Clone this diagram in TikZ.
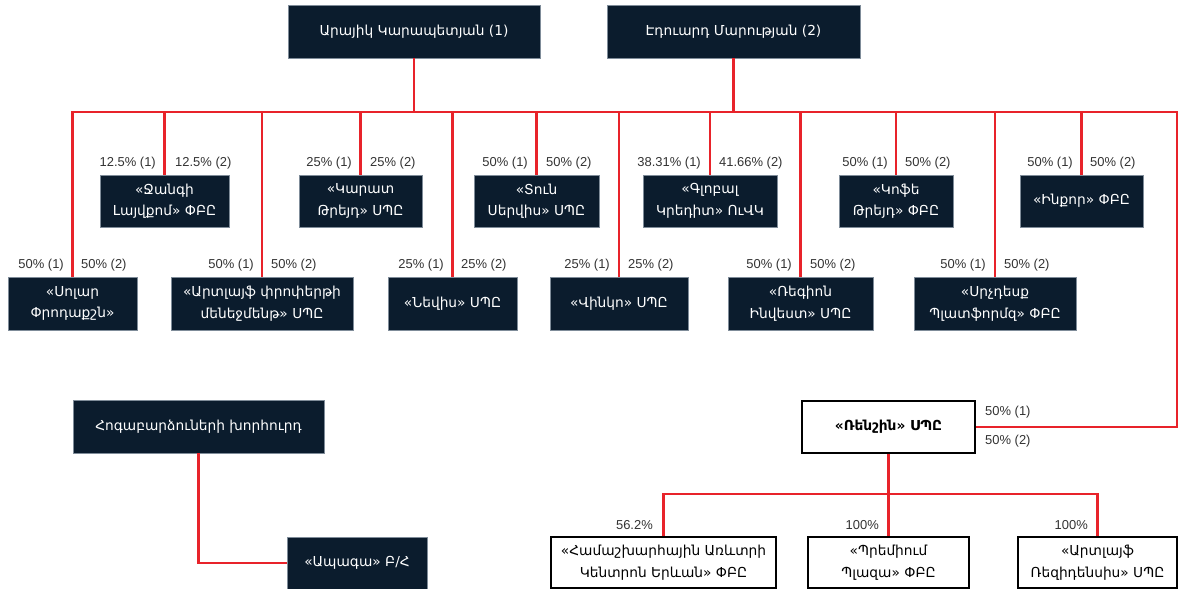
\documentclass[tikz,border=0pt]{standalone}
\usepackage{fontspec}
\setmainfont{DejaVu Sans}
\newfontfamily\pctfont{Liberation Sans}
\definecolor{navy}{HTML}{0B1C2D}
\definecolor{lnred}{HTML}{E8232A}
\definecolor{bordergray}{HTML}{7F8C99}
\definecolor{lbl}{HTML}{333333}
\begin{document}
\begin{tikzpicture}[x=1bp,y=-1bp,
  dark/.style={fill=navy, draw=bordergray, line width=0.8bp, text=white, align=center, inner sep=0pt, font=\fontsize{13.8}{21.5}\selectfont},
  light/.style={fill=white, draw=black, line width=2.5bp, text=black, align=center, inner sep=0pt, font=\fontsize{13.8}{21.5}\selectfont},
  conn/.style={draw=lnred, line width=2.6bp},
  pl/.style={font=\pctfont\fontsize{13}{14}\selectfont, text=lbl, inner sep=0pt, anchor=east},
  pr/.style={font=\pctfont\fontsize{13}{14}\selectfont, text=lbl, inner sep=0pt, anchor=west}
]
\useasboundingbox[fill=white] (0,0) rectangle (1191,589);
% owners
\node[dark, minimum width=252bp, minimum height=53bp] (A) at (414,31.5) {Արայիկ Կարապետյան (1)};
\node[dark, minimum width=253bp, minimum height=53bp] (E) at (733.5,31.5) {Էդուարդ Մարության (2)};
% row 1
\node[dark, minimum width=129bp, minimum height=52bp] (C1) at (164.5,201) {«Ջանգի\\Լայվքոմ» ՓԲԸ};
\node[dark, minimum width=123bp, minimum height=52bp] (C2) at (360.5,201) {«Կարատ\\Թրեյդ» ՍՊԸ};
\node[dark, minimum width=125bp, minimum height=52bp] (C3) at (536.5,201) {«Տուն\\Սերվիս» ՍՊԸ};
\node[dark, minimum width=134bp, minimum height=52bp] (C4) at (710,201) {«Գլոբալ\\Կրեդիտ» ՈւՎԿ};
\node[dark, minimum width=114bp, minimum height=52bp] (C5) at (896,201) {«Կոֆե\\Թրեյդ» ՓԲԸ};
\node[dark, minimum width=123bp, minimum height=52bp] (C6) at (1081.5,201) {«Ինքոր» ՓԲԸ};
% row 2
\node[dark, minimum width=129bp, minimum height=53bp] (D1) at (72.5,303.5) {«Սոլար\\Փրոդաքշն»};
\node[dark, minimum width=182bp, minimum height=53bp] (D2) at (262,303.5) {«Արտլայֆ փրոփերթի\\մենեջմենթ» ՍՊԸ};
\node[dark, minimum width=129bp, minimum height=53bp] (D3) at (452.5,303.5) {«Նեվիս» ՍՊԸ};
\node[dark, minimum width=138bp, minimum height=53bp] (D4) at (619,303.5) {«Վինկո» ՍՊԸ};
\node[dark, minimum width=145bp, minimum height=53bp] (D5) at (800.5,303.5) {«Ռեգիոն\\Ինվեստ» ՍՊԸ};
\node[dark, minimum width=162bp, minimum height=53bp] (D6) at (995,303.5) {«Սրչդեսք\\Պլատֆորմզ» ՓԲԸ};
% trustees
\node[dark, minimum width=251bp, minimum height=53bp] (H) at (198.5,426.5) {Հոգաբարձուների խորհուրդ};
\node[dark, minimum width=140bp, minimum height=52bp] (Ap) at (357,563) {«Ապագա» Բ/Հ};
% Renshin
\node[light, minimum width=173bp, minimum height=52bp, font=\fontsize{13.8}{21.5}\selectfont\bfseries] (R) at (888.5,427) {«Ռենշին» ՍՊԸ};
\node[light, minimum width=225bp, minimum height=51bp] (K1) at (663.5,562.5) {«Համաշխարհային Առևտրի\\Կենտրոն Երևան» ՓԲԸ};
\node[light, minimum width=161bp, minimum height=51bp] (K2) at (888.5,562.5) {«Պրեմիում\\Պլազա» ՓԲԸ};
\node[light, minimum width=159bp, minimum height=51bp] (K3) at (1097.5,562.5) {«Արտլայֆ\\Ռեզիդենսիս» ՍՊԸ};
% bus coordinates
\coordinate (busR) at (1177,112);
\coordinate (b2) at (888.5,494);
% connectors
\draw[conn] (D1.north) |- (busR) |- (R.east);
\draw[conn] (A.south) -- (A.south |- busR);
\draw[conn] (E.south) -- (E.south |- busR);
\foreach \n in {C1,C2,C3,C4,C5,C6,D2,D3,D4,D5,D6}
  \draw[conn] (\n.north) -- (\n.north |- busR);
\draw[conn] (H.south) |- (Ap.west);
\draw[conn] (R.south) -- (K2.north);
\draw[conn] (K1.north) |- (b2) -| (K3.north);
% percentage labels row 1
\node[pl] (l1a) at (156,163) {12.5\% (1)};
\node[pr] (l1b) at (175,163) {12.5\% (2)};
\node[pl] (l2a) at (352,163) {25\% (1)};
\node[pr] (l2b) at (370,163) {25\% (2)};
\node[pl] (l3a) at (528,163) {50\% (1)};
\node[pr] (l3b) at (546,163) {50\% (2)};
\node[pl] (l4a) at (701,163) {38.31\% (1)};
\node[pr] (l4b) at (719,163) {41.66\% (2)};
\node[pl] (l5a) at (888,163) {50\% (1)};
\node[pr] (l5b) at (905,163) {50\% (2)};
\node[pl] (l6a) at (1073,163) {50\% (1)};
\node[pr] (l6b) at (1090,163) {50\% (2)};
% percentage labels row 2
\node[pl] (m1a) at (64,265) {50\% (1)};
\node[pr] (m1b) at (81,265) {50\% (2)};
\node[pl] (m2a) at (254,265) {50\% (1)};
\node[pr] (m2b) at (271,265) {50\% (2)};
\node[pl] (m3a) at (444,265) {25\% (1)};
\node[pr] (m3b) at (461,265) {25\% (2)};
\node[pl] (m4a) at (610,265) {25\% (1)};
\node[pr] (m4b) at (628,265) {25\% (2)};
\node[pl] (m5a) at (792,265) {50\% (1)};
\node[pr] (m5b) at (810,265) {50\% (2)};
\node[pl] (m6a) at (986,265) {50\% (1)};
\node[pr] (m6b) at (1004,265) {50\% (2)};
% Renshin labels
\node[pr] (r1) at (985,412) {50\% (1)};
\node[pr] (r2) at (985,441) {50\% (2)};
% bottom labels
\node[pl] (k1l) at (653,525) {56.2\%};
\node[pl] (k2l) at (879,525) {100\%};
\node[pl] (k3l) at (1088,525) {100\%};
\end{tikzpicture}
\end{document}
